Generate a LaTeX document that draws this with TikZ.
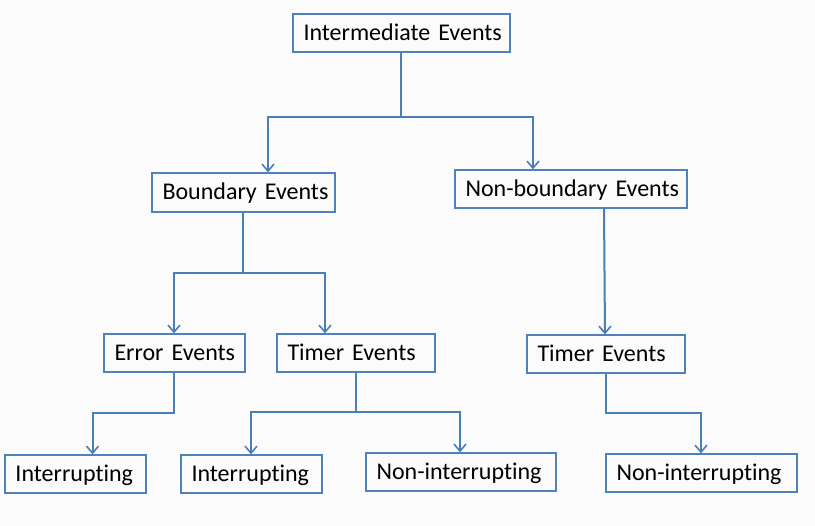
\documentclass[tikz,border=0pt]{standalone}
\usepackage{fontspec}
\setmainfont{Carlito}[Ligatures=NoCommon]
\usetikzlibrary{arrows.meta}
\definecolor{linec}{HTML}{4A7EBB}
\definecolor{boxc}{HTML}{4F81BD}
\definecolor{bg}{HTML}{FBFBFB}
\DeclareRobustCommand{\evfont}{\fontsize{24}{28}\selectfont\spaceskip=3.4pt plus 1pt\relax}
\tikzset{
  evbox/.style={draw=boxc, line width=1.3pt, rectangle, inner xsep=10.5pt, inner ysep=0pt,
    text height=15pt, text depth=0pt, align=left, font=\evfont},
  conn/.style={draw=linec, line width=2pt, -{Straight Barb[length=7pt,width=12pt,line width=1.6pt]}},
}
\newcommand{\evnode}[6]{% name, x1, y1, x2, y2, text
  \node[evbox, minimum width={#4-#2}, minimum height={#5-#3}, text width={#4-#2-21}]
    (#1) at ({(#2+#4)/2},{(#3+#5)/2}) {\mbox{#6}};}
\begin{document}
\begin{tikzpicture}[x=1pt,y=-1pt]
\fill[bg] (0,0) rectangle (815,526);
\useasboundingbox (0,0) rectangle (815,526);
\evnode{IE}{293}{14}{510}{52}{Intermediate Events}
\evnode{BE}{152}{173}{335}{212}{Boundary Events}
\evnode{NBE}{455}{170}{687}{208}{Non-boundary Events}
\evnode{EE}{104}{334}{245}{372}{Error Events}
\evnode{TEa}{277}{334}{435}{372}{Timer Events}
\evnode{TEb}{527}{335}{685}{373}{Timer Events}
\evnode{Ia}{5}{455}{146}{493}{Interrupting}
\evnode{Ib}{181}{455}{322}{493}{Interrupting}
\evnode{NIa}{366}{453}{556}{491}{Non-interrupting}
\evnode{NIb}{606}{454}{797}{492}{Non-interrupting}
\coordinate (j1) at (401,117);
\coordinate (j2) at (243,273);
\coordinate (j3) at (174,413);
\coordinate (j4) at (356,412);
\coordinate (j5) at (606,413);
\draw[conn] (IE.south -| j1) -- (j1) -| ([xshift=24.5pt]BE.north);
\draw[conn] (j1) -| ([xshift=-38pt]NBE.north);
\draw[conn] (BE.south -| j2) -- (j2) -| ([xshift=-0.5pt]EE.north);
\draw[conn] (j2) -| ([xshift=-31pt]TEa.north);
\draw[conn] ([xshift=33pt]NBE.south) -- ([xshift=-1pt]TEb.north);
\draw[conn] (EE.south -| j3) -- (j3) -| ([xshift=17pt]Ia.north);
\draw[conn] (TEa.south -| j4) -- (j4) -| ([xshift=-0.5pt]Ib.north);
\draw[conn] (j4) -| ([xshift=-1pt]NIa.north);
\draw[conn] (TEb.south -| j5) -- (j5) -| ([xshift=-0.5pt]NIb.north);
\end{tikzpicture}
\end{document}
